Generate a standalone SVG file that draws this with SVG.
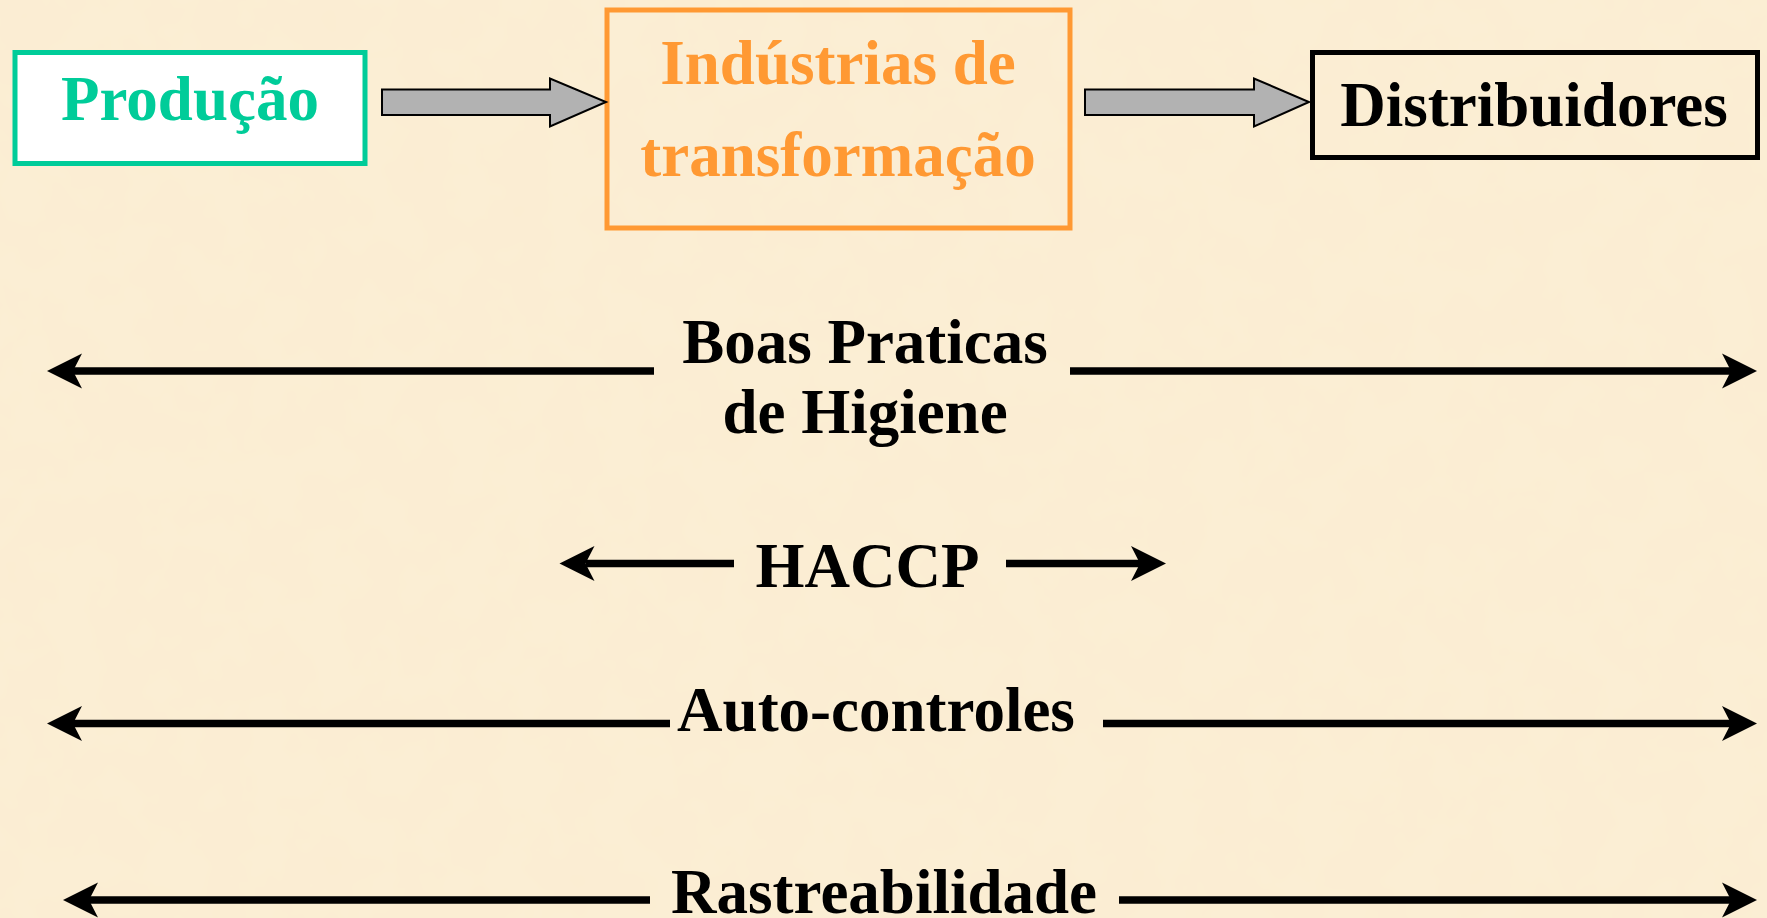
<svg xmlns="http://www.w3.org/2000/svg" width="1767" height="918" viewBox="0 0 1767 918">
  <defs>
    <style>
      .t { font-family: "Liberation Serif", "Times New Roman", serif; font-weight: bold; font-size: 63px; text-anchor: middle; }
      .box { stroke-width: 5; }
      .blk { stroke: #000; stroke-width: 7.5; fill: none; marker-end: url(#head); }
      .gray { fill: #B2B2B2; stroke: #000; stroke-width: 2; stroke-linejoin: miter; }
    </style>
    <marker id="head" markerUnits="userSpaceOnUse" viewBox="0 -18 36 36" refX="9" refY="0" markerWidth="36" markerHeight="36" orient="auto">
      <path d="M0,-17.5 L35,0 L0,17.5 L9,0 Z" fill="#000"/>
    </marker>
    <filter id="paper" x="0" y="0" width="100%" height="100%">
      <feTurbulence type="fractalNoise" baseFrequency="0.02" numOctaves="3" seed="4" result="n"/>
      <feColorMatrix in="n" type="matrix" values="0 0 0 0 0.96  0 0 0 0 0.88  0 0 0 0 0.72  0 0 0 0.25 0"/>
    </filter>
  </defs>
  <rect x="0" y="0" width="1767" height="918" fill="#FBEDD2"/>
  <rect x="0" y="0" width="1767" height="918" filter="url(#paper)"/>

  <g id="producao">
    <rect class="box" x="15" y="52.5" width="350" height="111" fill="#FFFFFF" stroke="#00CC99"/>
    <text class="t" x="190" y="120" fill="#00CC99">Produção</text>
  </g>

  <g id="industrias">
    <rect class="box" x="607" y="10" width="463" height="218" fill="none" stroke="#FF9933"/>
    <text class="t" x="838" y="84" fill="#FF9933">Indústrias de</text>
    <text class="t" x="838" y="176" fill="#FF9933">transformação</text>
  </g>

  <g id="distribuidores">
    <rect class="box" x="1312.5" y="52.5" width="445" height="105" fill="none" stroke="#000000"/>
    <text class="t" x="1534" y="126" fill="#000000">Distribuidores</text>
  </g>

  <g id="labels">
    <text class="t" x="865" y="363" fill="#000">Boas Praticas</text>
    <text class="t" x="865" y="433" fill="#000">de Higiene</text>
    <text class="t" x="867.5" y="587" fill="#000">HACCP</text>
    <text class="t" x="876" y="731" fill="#000">Auto-controles</text>
    <text class="t" x="884" y="913" fill="#000">Rastreabilidade</text>
  </g>

  <g id="connectors">
    <polygon class="gray" points="382,89.5 550,89.5 550,78.5 606,102 550,126.5 550,115 382,115"/>
    <polygon class="gray" points="1085,89.5 1254,89.5 1254,78.5 1309,102 1254,126.5 1254,115 1085,115"/>

    <line class="blk" x1="654" y1="371" x2="73" y2="371"/>
    <line class="blk" x1="1070" y1="371" x2="1731" y2="371"/>

    <line class="blk" x1="734" y1="563.5" x2="585.5" y2="563.5"/>
    <line class="blk" x1="1006" y1="563.5" x2="1140" y2="563.5"/>

    <line class="blk" x1="670" y1="723.5" x2="73" y2="723.5"/>
    <line class="blk" x1="1103" y1="723.5" x2="1731" y2="723.5"/>

    <line class="blk" x1="650" y1="900" x2="89" y2="900"/>
    <line class="blk" x1="1119" y1="900" x2="1731" y2="900"/>
  </g>
</svg>
